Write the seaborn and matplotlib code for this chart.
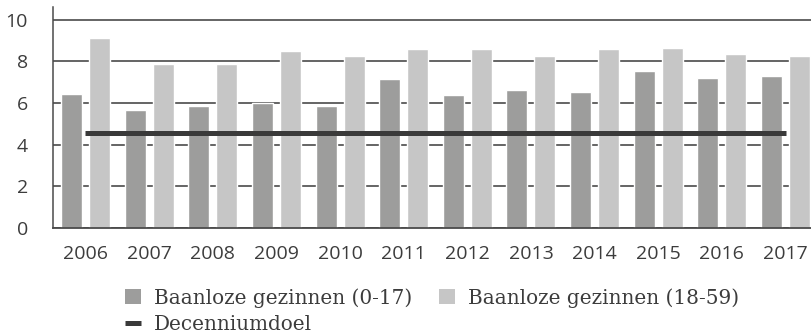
import numpy as np
import pandas as pd
import matplotlib
matplotlib.use("Agg")
import matplotlib.pyplot as plt
from matplotlib.patches import Patch
from matplotlib.lines import Line2D
import seaborn as sns

# Share of people living in jobless households, per year
years = ["2006", "2007", "2008", "2009", "2010", "2011",
         "2012", "2013", "2014", "2015", "2016", "2017"]
kids_0_17 = [6.44, 5.67, 5.87, 6.00, 5.87, 7.16, 6.39, 6.63, 6.54, 7.55, 7.21, 7.31]
adults_18_59 = [9.13, 7.88, 7.88, 8.51, 8.27, 8.61, 8.61, 8.27, 8.61, 8.65, 8.37, 8.27]
decade_target = 4.55

series_names = ["Baanloze gezinnen (0-17)", "Baanloze gezinnen (18-59)"]
target_name = "Decenniumdoel"
yticks = [0, 2, 4, 6, 8, 10]

DARK = "#9d9d9c"
LIGHT = "#c6c6c6"
LINE = "#3a3a3a"
TEXT = "#3c3c3c"
GRID = "#4a4a4a"

df = pd.DataFrame({
    "jaar": years * 2,
    "waarde": kids_0_17 + adults_18_59,
    "groep": [series_names[0]] * len(years) + [series_names[1]] * len(years),
})

sns.set_theme(style="white")
plt.rcParams["font.family"] = ["Open Sans", "DejaVu Sans"]

fig = plt.figure(figsize=(8.11, 3.35), dpi=100)
ax = fig.add_axes([0.0654, 0.3194, 1.0 - 0.0654, 0.6596])

sns.barplot(data=df, x="jaar", y="waarde", hue="groep", order=years,
            hue_order=series_names, palette=[DARK, LIGHT],
            width=0.88, gap=0.25, saturation=1, errorbar=None,
            legend=False, ax=ax, zorder=2)

# Target line across all years
xs = np.arange(len(years))
ax.plot(xs, [decade_target] * len(years), color=LINE, lw=3.6,
        solid_capstyle="butt", zorder=3)

ax.set_xlim(-0.51, 11.40)
ax.set_ylim(0, 10.6)
ax.set_yticks(yticks)
ax.set_yticklabels([str(t) for t in yticks])
ax.set_xlabel("")
ax.set_ylabel("")

ax.yaxis.grid(True, color=GRID, lw=1.2, zorder=0)
ax.xaxis.grid(False)
ax.set_axisbelow(True)

for side in ["top", "right"]:
    ax.spines[side].set_visible(False)
ax.spines["left"].set_color(GRID)
ax.spines["left"].set_linewidth(1.1)
ax.spines["bottom"].set_color(GRID)
ax.spines["bottom"].set_linewidth(1.3)

ax.tick_params(axis="both", length=0, labelsize=14, colors=TEXT)
ax.tick_params(axis="x", pad=12)
ax.tick_params(axis="y", pad=18)

handles = [
    Patch(facecolor=DARK, edgecolor="none", label=series_names[0]),
    Line2D([0], [0], color=LINE, lw=3.6, solid_capstyle="butt",
           label=target_name),
    Patch(facecolor=LIGHT, edgecolor="none", label=series_names[1]),
]
fig.legend(handles=handles, ncol=2, loc="upper left",
           bbox_to_anchor=(0.154, 0.140), frameon=False,
           prop={"family": ["DejaVu Serif"], "size": 14.4},
           labelcolor=TEXT, handlelength=0.8, handleheight=0.75,
           handletextpad=0.65, columnspacing=1.35, labelspacing=0.35,
           borderpad=0, borderaxespad=0)

fig.savefig("out.png", dpi=100)
